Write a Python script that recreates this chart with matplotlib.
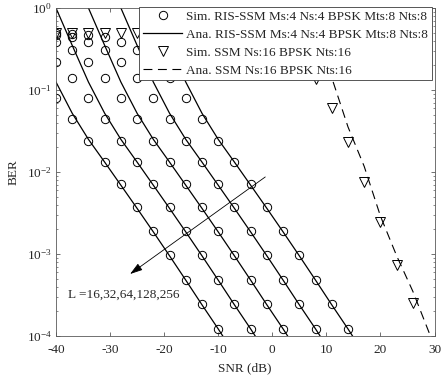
import matplotlib
matplotlib.use("Agg")
import matplotlib.pyplot as plt
from matplotlib.ticker import LogLocator, LogFormatterMathtext, NullFormatter, FixedLocator

# ---- data (SNR in dB, BER) ----
snr_l256 = list(range(-40, -9, 3))
snr_l128 = list(range(-40, -3, 3))
snr_l64 = list(range(-40, 3, 3))
snr_l32 = list(range(-40, 9, 3))
snr_l16 = list(range(-40, 15, 3))

ber_sim_l256 = [8.0e-2, 4.4e-2, 2.4e-2, 1.32e-2, 7.1e-3, 3.7e-3, 1.9e-3, 9.7e-4, 4.8e-4, 2.45e-4, 1.22e-4]
ber_sim_l128 = [2.2e-1, 1.4e-1, 8.0e-2, 4.4e-2, 2.4e-2, 1.32e-2, 7.1e-3, 3.7e-3, 1.9e-3, 9.7e-4,
                4.8e-4, 2.45e-4, 1.22e-4]
ber_sim_l64 = [3.85e-1, 3.07e-1, 2.2e-1, 1.4e-1, 8.0e-2, 4.4e-2, 2.4e-2, 1.32e-2, 7.1e-3, 3.7e-3,
               1.9e-3, 9.7e-4, 4.8e-4, 2.45e-4, 1.22e-4]
ber_sim_l32 = [4.69e-1, 4.43e-1, 3.85e-1, 3.07e-1, 2.2e-1, 1.4e-1, 8.0e-2, 4.4e-2, 2.4e-2, 1.32e-2,
               7.1e-3, 3.7e-3, 1.9e-3, 9.7e-4, 4.8e-4, 2.45e-4, 1.22e-4]
ber_sim_l16 = [4.95e-1, 4.8e-1, 4.69e-1, 4.43e-1, 3.85e-1, 3.07e-1, 2.2e-1, 1.4e-1, 8.0e-2, 4.4e-2,
               2.4e-2, 1.32e-2, 7.1e-3, 3.7e-3, 1.9e-3, 9.7e-4, 4.8e-4, 2.45e-4, 1.22e-4]

snr_ana_l256 = list(range(-40, -6, 3))
snr_ana_l128 = list(range(-40, 0, 3))
snr_ana_l64 = list(range(-37, 6, 3))
snr_ana_l32 = list(range(-31, 12, 3))
snr_ana_l16 = list(range(-25, 18, 3))

ber_ana_l256 = [1.25e-1, 5.2e-2, 2.5e-2, 1.32e-2, 6.9e-3, 3.6e-3, 1.86e-3, 9.5e-4, 4.8e-4, 2.4e-4,
                1.22e-4, 6.0e-5]
ber_ana_l128 = [1.0, 3.5e-1, 1.25e-1, 5.2e-2, 2.5e-2, 1.32e-2, 6.9e-3, 3.6e-3, 1.86e-3, 9.5e-4,
                4.8e-4, 2.4e-4, 1.22e-4, 6.0e-5]
ber_ana_l64 = [2.8, 1.0, 3.5e-1, 1.25e-1, 5.2e-2, 2.5e-2, 1.32e-2, 6.9e-3, 3.6e-3, 1.86e-3, 9.5e-4,
               4.8e-4, 2.4e-4, 1.22e-4, 6.0e-5]
ber_ana_l32 = [2.8, 1.0, 3.5e-1, 1.25e-1, 5.2e-2, 2.5e-2, 1.32e-2, 6.9e-3, 3.6e-3, 1.86e-3, 9.5e-4,
               4.8e-4, 2.4e-4, 1.22e-4, 6.0e-5]
ber_ana_l16 = [2.8, 1.0, 3.5e-1, 1.25e-1, 5.2e-2, 2.5e-2, 1.32e-2, 6.9e-3, 3.6e-3, 1.86e-3, 9.5e-4,
               4.8e-4, 2.4e-4, 1.22e-4, 6.0e-5]

snr_ssm_sim = list(range(-40, 27, 3))
ber_ssm_sim = [0.5, 0.5, 0.5, 0.5, 0.5, 0.5, 0.5, 0.5, 0.5, 0.5, 0.5, 0.5, 0.5, 0.5, 0.42, 0.28,
               1.36e-1, 6.0e-2, 2.32e-2, 7.6e-3, 2.46e-3, 7.4e-4, 2.5e-4]
snr_ssm_ana = [2, 5, 8, 11, 14, 17, 20, 23, 26, 29, 30]
ber_ssm_ana = [0.9, 0.55, 0.3, 1.41e-1, 3.55e-2, 1.17e-2, 2.9e-3, 9.5e-4, 3.5e-4, 1.1e-4, 7.9e-5]

sim_series = [(snr_l16, ber_sim_l16), (snr_l32, ber_sim_l32), (snr_l64, ber_sim_l64),
              (snr_l128, ber_sim_l128), (snr_l256, ber_sim_l256)]
ana_series = [(snr_ana_l16, ber_ana_l16), (snr_ana_l32, ber_ana_l32), (snr_ana_l64, ber_ana_l64),
              (snr_ana_l128, ber_ana_l128), (snr_ana_l256, ber_ana_l256)]

labels = [
    "Sim. RIS-SSM Ms:4 Ns:4 BPSK Mts:8 Nts:8",
    "Ana. RIS-SSM Ms:4 Ns:4 BPSK Mts:8 Nts:8",
    "Sim. SSM Ns:16 BPSK Nts:16",
    "Ana. SSM Ns:16 BPSK Nts:16",
]

TEXT = "#262626"
AXIS = "#5a5a5a"
FS = 9.5

plt.rcParams.update(
    {
        "font.family": ["Liberation Serif", "DejaVu Serif"],
        "font.size": FS,
        "mathtext.fontset": "stix",
        "mathtext.default": "regular",
        "axes.unicode_minus": False,
        "axes.edgecolor": AXIS,
        "axes.linewidth": 0.6,
        "xtick.direction": "in",
        "ytick.direction": "in",
        "xtick.color": AXIS,
        "ytick.color": AXIS,
        "xtick.labelcolor": TEXT,
        "ytick.labelcolor": TEXT,
        "xtick.major.size": 3.0,
        "ytick.major.size": 3.0,
        "ytick.minor.size": 1.6,
        "xtick.major.width": 0.6,
        "ytick.major.width": 0.6,
        "ytick.minor.width": 0.5,
        "legend.fontsize": FS,
    }
)

fig = plt.figure(figsize=(4.46, 3.86), dpi=100)
ax = fig.add_axes([56 / 446, 1 - 336 / 386, 378.5 / 446, 328 / 386])

mk = dict(marker="o", ms=6, mfc="none", mec="black", mew=0.7, ls="none")
for snr, ber in sim_series:
    ax.plot(snr, ber, **mk)
for snr, ber in ana_series:
    ax.plot(snr, ber, color="black", lw=0.9)

ax.plot(snr_ssm_sim, ber_ssm_sim, marker="v", ms=6.5, mfc="none", mec="black", mew=0.7, ls="none")
ax.plot(snr_ssm_ana, ber_ssm_ana, color="black", lw=0.8, dashes=(8, 5))

ax.set_yscale("log")
ax.set_xlim(-40, 30)
ax.set_ylim(1e-4, 1)
ax.xaxis.set_major_locator(FixedLocator(range(-40, 31, 10)))
ax.yaxis.set_major_locator(LogLocator(base=10))
ax.yaxis.set_minor_locator(LogLocator(base=10, subs=range(2, 10)))
ax.yaxis.set_major_formatter(LogFormatterMathtext())
ax.yaxis.set_minor_formatter(NullFormatter())
ax.tick_params(which="both", top=True, right=True, labelsize=FS)
ax.tick_params(axis="x", pad=6)
ax.tick_params(axis="y", pad=3)

ax.set_xlabel("SNR (dB)", color=TEXT, fontsize=FS, labelpad=4)
ax.set_ylabel("BER", color=TEXT, fontsize=FS, labelpad=5)

# legend handles in the same style as the plotted marks
h_sim = plt.Line2D([], [], **mk)
h_ana = plt.Line2D([], [], color="black", lw=0.9)
h_ssm = plt.Line2D([], [], marker="v", ms=6.5, mfc="none", mec="black", mew=0.7, ls="none")
h_ssm_ana = plt.Line2D([], [], color="black", lw=0.8, dashes=(8, 5))
leg = ax.legend(
    [h_sim, h_ana, h_ssm, h_ssm_ana], labels,
    loc="upper right", bbox_to_anchor=(0.993, 1.003), borderaxespad=0,
    fancybox=False, framealpha=1, edgecolor="#3a3a3a",
    handlelength=3.0, handletextpad=0.3, borderpad=0.28, labelspacing=0.43,
)
leg.get_frame().set_linewidth(0.6)
for t in leg.get_texts():
    t.set_color(TEXT)

ax.annotate(
    "", xy=(-26.3, 5.7e-4), xytext=(-1.3, 8.7e-3),
    arrowprops=dict(arrowstyle="-|>,head_length=0.8,head_width=0.25", color="black", lw=0.6,
                    shrinkA=0, shrinkB=0),
)
ax.text(-37.8, 3.2e-4, "L =16,32,64,128,256", fontsize=FS, color=TEXT, va="center", ha="left")

fig.savefig("out.png", dpi=100)
